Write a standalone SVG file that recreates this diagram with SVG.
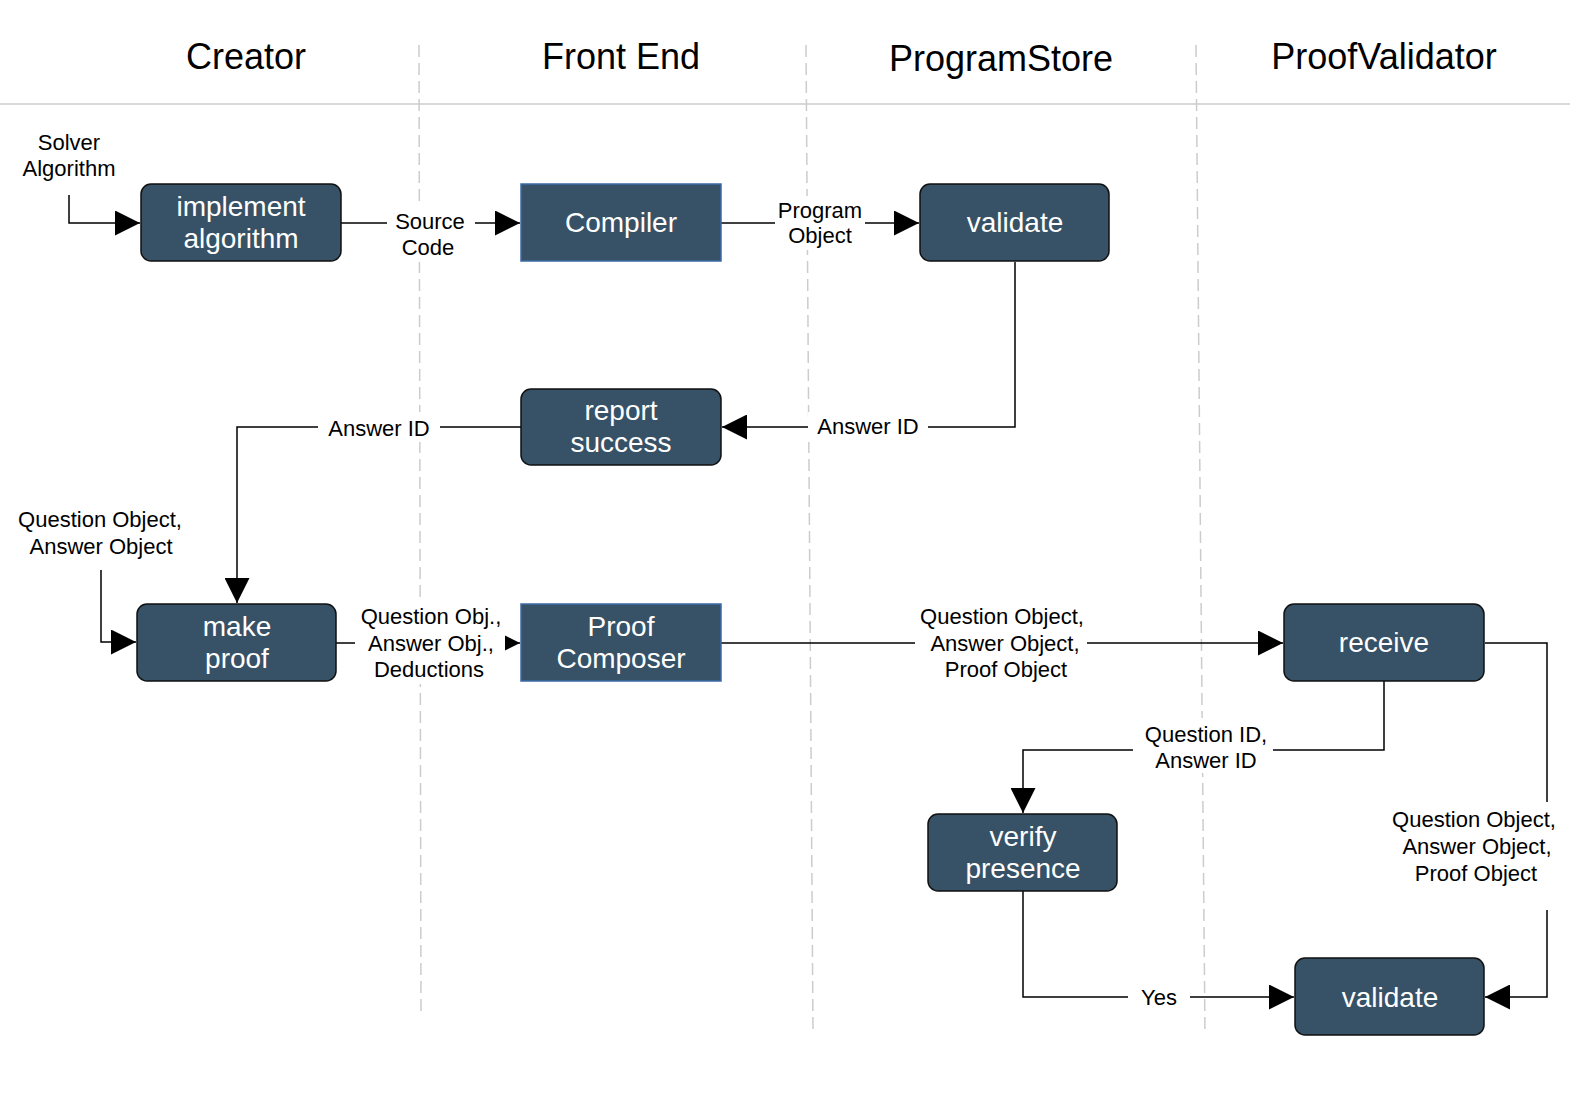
<svg xmlns="http://www.w3.org/2000/svg" width="1570" height="1106" viewBox="0 0 1570 1106">
<style>
text{font-family:"Liberation Sans",Arial,sans-serif}
.h{font-size:36px;fill:#000;text-anchor:middle}
.n{fill:#375266;stroke:#111;stroke-width:1.5}
.s{fill:#375266;stroke:#3d6aa8;stroke-width:1.5}
.t{font-size:28px;fill:#fff;text-anchor:middle}
.l{font-size:22px;fill:#000;text-anchor:middle}
.c{fill:none;stroke:#000;stroke-width:1.5}
.d{stroke:#ccc;stroke-width:1.5;stroke-dasharray:12 6;fill:none}
.bg{fill:#fff}
</style>
<defs><marker id="a" viewBox="0 0 10 10" refX="10" refY="5" markerWidth="25" markerHeight="25" markerUnits="userSpaceOnUse" orient="auto"><path d="M0,0 L10,5 L0,10 Z" fill="#000"/></marker></defs>
<rect width="1570" height="1106" fill="#fff"/>
<g id="lanes">
<line x1="0" y1="104" x2="1570" y2="104" stroke="#ccc" stroke-width="1.5"/>
<line class="d" x1="419" y1="45" x2="421" y2="1015"/>
<line class="d" x1="806" y1="45" x2="813" y2="1030"/>
<line class="d" x1="1196" y1="45" x2="1205" y2="1035"/>
<text class="h" x="246" y="69">Creator</text>
<text class="h" x="621" y="69">Front End</text>
<text class="h" x="1001" y="71">ProgramStore</text>
<text class="h" x="1384" y="69">ProofValidator</text>
</g>
<g id="connectors">
<path class="c" d="M69,195 V223 H140" marker-end="url(#a)"/>
<path class="c" d="M341,223 H520" marker-end="url(#a)"/>
<path class="c" d="M721,223 H919" marker-end="url(#a)"/>
<path class="c" d="M1015,262 V427 H722" marker-end="url(#a)"/>
<path class="c" d="M521,427 H237 V603" marker-end="url(#a)"/>
<path class="c" d="M101,570 V642 H136" marker-end="url(#a)"/>
<path class="c" d="M336,643 H520" marker-end="url(#a)"/>
<path class="c" d="M721,643 H1283" marker-end="url(#a)"/>
<path class="c" d="M1384,681 V750 H1023 V813" marker-end="url(#a)"/>
<path class="c" d="M1023,891 V997 H1294" marker-end="url(#a)"/>
<path class="c" d="M1485,643 H1547 V997 H1485" marker-end="url(#a)"/>
<rect class="bg" x="20" y="128" width="100" height="55"/>
<text class="l" x="69" y="150">Solver</text><text class="l" x="69" y="176">Algorithm</text>
<rect class="bg" x="387" y="206" width="88" height="56"/>
<text class="l" x="430" y="229">Source</text><text class="l" x="428" y="255">Code</text>
<rect class="bg" x="775" y="196" width="90" height="54"/>
<text class="l" x="820" y="218">Program</text><text class="l" x="820" y="243">Object</text>
<rect class="bg" x="808" y="412" width="120" height="30"/>
<text class="l" x="868" y="434">Answer ID</text>
<rect class="bg" x="318" y="412" width="122" height="30"/>
<text class="l" x="379" y="436">Answer ID</text>
<text class="l" x="100" y="527">Question Object,</text><text class="l" x="101" y="554">Answer Object</text>
<rect class="bg" x="355" y="600" width="150" height="84"/>
<text class="l" x="431" y="624">Question Obj.,</text><text class="l" x="431" y="651">Answer Obj.,</text><text class="l" x="429" y="677">Deductions</text>
<rect class="bg" x="915" y="600" width="172" height="84"/>
<text class="l" x="1002" y="624">Question Object,</text><text class="l" x="1005" y="651">Answer Object,</text><text class="l" x="1006" y="677">Proof Object</text>
<rect class="bg" x="1133" y="718" width="140" height="55"/>
<text class="l" x="1206" y="742">Question ID,</text><text class="l" x="1206" y="768">Answer ID</text>
<rect class="bg" x="1385" y="802" width="180" height="108"/>
<text class="l" x="1474" y="827">Question Object,</text><text class="l" x="1477" y="854">Answer Object,</text><text class="l" x="1476" y="881">Proof Object</text>
<rect class="bg" x="1128" y="982" width="62" height="30"/>
<text class="l" x="1159" y="1005">Yes</text>
</g>
<g id="implement"><rect class="n" x="141" y="184" width="200" height="77" rx="10"/><text class="t" x="241" y="216">implement</text><text class="t" x="241" y="248">algorithm</text></g>
<g id="compiler"><rect class="s" x="521" y="184" width="200" height="77"/><text class="t" x="621" y="232">Compiler</text></g>
<g id="validate1"><rect class="n" x="920" y="184" width="189" height="77" rx="10"/><text class="t" x="1015" y="232">validate</text></g>
<g id="report"><rect class="n" x="521" y="389" width="200" height="76" rx="10"/><text class="t" x="621" y="420">report</text><text class="t" x="621" y="452">success</text></g>
<g id="makeproof"><rect class="n" x="137" y="604" width="199" height="77" rx="10"/><text class="t" x="237" y="636">make</text><text class="t" x="237" y="668">proof</text></g>
<g id="composer"><rect class="s" x="521" y="604" width="200" height="77"/><text class="t" x="621" y="636">Proof</text><text class="t" x="621" y="668">Composer</text></g>
<g id="receive"><rect class="n" x="1284" y="604" width="200" height="77" rx="10"/><text class="t" x="1384" y="652">receive</text></g>
<g id="verify"><rect class="n" x="928" y="814" width="189" height="77" rx="10"/><text class="t" x="1023" y="846">verify</text><text class="t" x="1023" y="878">presence</text></g>
<g id="validate2"><rect class="n" x="1295" y="958" width="189" height="77" rx="10"/><text class="t" x="1390" y="1007">validate</text></g>
</svg>
